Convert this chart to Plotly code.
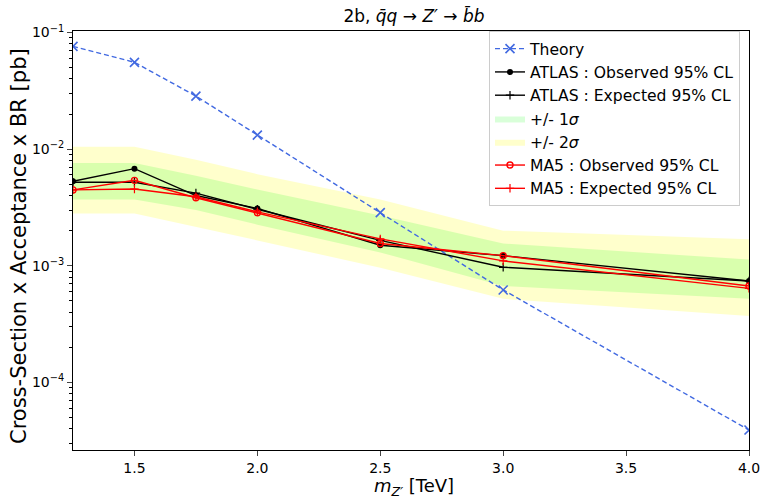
import plotly.graph_objects as go
import numpy as np

# ---- data ----
mass = [1.25, 1.5, 1.75, 2.0, 2.5, 3.0, 4.0]
theory = [0.0760, 0.0555, 0.0285, 0.0132, 0.00285, 0.00062, 0.000039]
atlas_obs = [0.0053, 0.0068, 0.0040, 0.0031, 0.00150, 0.00122, 0.00074]
atlas_exp = [0.0052, 0.0052, 0.0042, 0.00305, 0.00165, 0.00097, 0.00074]
sig1_up = [0.0076, 0.0076, 0.0059, 0.0045, 0.0027, 0.00155, 0.00113]
sig1_dn = [0.0037, 0.0037, 0.0030, 0.00225, 0.00130, 0.00067, 0.00052]
sig2_up = [0.0105, 0.0105, 0.0081, 0.0061, 0.0037, 0.0020, 0.00169]
sig2_dn = [0.0028, 0.0028, 0.00215, 0.00165, 0.00096, 0.00052, 0.00037]
ma5_obs = [0.00447, 0.0054, 0.00383, 0.00284, 0.00155, 0.00122, 0.00067]
ma5_exp = [0.00447, 0.00455, 0.0039, 0.0029, 0.00170, 0.00110, 0.00064]

xticks = [1.5, 2.0, 2.5, 3.0, 3.5, 4.0]
yticks = [1e-1, 1e-2, 1e-3, 1e-4]
yticklabels = ["10<sup>−1</sup>", "10<sup>−2</sup>", "10<sup>−3</sup>", "10<sup>−4</sup>"]

FONT = "DejaVu Sans"
L, R, T, B = 73, 13, 31, 52
W, H = 762, 502
PW, PH = W - L - R, H - T - B

fig = go.Figure()

# bands
fig.add_trace(go.Scatter(
    x=mass + mass[::-1], y=sig2_up + sig2_dn[::-1], fill="toself",
    fillcolor="rgba(255,255,0,0.2)", line=dict(width=0), mode="lines",
    name="+/- 2<i>σ</i>", legendrank=5, hoverinfo="skip"))
fig.add_trace(go.Scatter(
    x=mass + mass[::-1], y=sig1_up + sig1_dn[::-1], fill="toself",
    fillcolor="rgba(0,255,0,0.15)", line=dict(width=0), mode="lines",
    name="+/- 1<i>σ</i>", legendrank=4, hoverinfo="skip"))

# theory
fig.add_trace(go.Scatter(
    x=mass, y=theory, mode="lines+markers", name="Theory", legendrank=1,
    line=dict(color="royalblue", dash="5px,3px", width=1.4),
    marker=dict(symbol="x-thin", size=9, line=dict(color="royalblue", width=1.6))))

# ATLAS
fig.add_trace(go.Scatter(
    x=mass, y=atlas_obs, mode="lines+markers", name="ATLAS : Observed 95% CL",
    legendrank=2, line=dict(color="black", width=1.4),
    marker=dict(symbol="circle", size=6, color="black")))
fig.add_trace(go.Scatter(
    x=mass, y=atlas_exp, mode="lines+markers", name="ATLAS : Expected 95% CL",
    legendrank=3, line=dict(color="black", width=1.4),
    marker=dict(symbol="cross-thin", size=6, line=dict(color="black", width=1.2))))

# MA5
fig.add_trace(go.Scatter(
    x=mass, y=ma5_obs, mode="lines+markers", name="MA5 : Observed 95% CL",
    legendrank=6, line=dict(color="red", width=1.4),
    marker=dict(symbol="circle-open", size=6, color="red", line=dict(width=1.4))))
fig.add_trace(go.Scatter(
    x=mass, y=ma5_exp, mode="lines+markers", name="MA5 : Expected 95% CL",
    legendrank=7, line=dict(color="red", width=1.4),
    marker=dict(symbol="cross-thin", size=6, line=dict(color="red", width=1.2))))

minor_vals = [m * 10.0 ** e for e in range(-5, 0) for m in range(2, 10)]

fig.update_layout(
    width=W, height=H,
    margin=dict(l=L, r=R, t=T, b=B),
    paper_bgcolor="white", plot_bgcolor="white",
    font=dict(family=FONT, color="black", size=14),
    title=dict(text="2b, <i>q̄q</i> → <i>Z′</i> → <i>b̄b</i>", x=414 / W, xanchor="center",
               xref="container", y=1 - 16 / H, yref="container", yanchor="middle",
               font=dict(size=17)),
    showlegend=True,
    legend=dict(x=(489 - L) / PW, y=1.0, xanchor="left", yanchor="top",
                bgcolor="rgba(255,255,255,0.8)", bordercolor="#cccccc", borderwidth=1,
                font=dict(size=15.6), tracegroupgap=0, traceorder="normal"),
    xaxis=dict(range=[1.25, 4.0], tickvals=xticks, ticktext=[f"{v:.1f}" for v in xticks],
               ticks="outside", ticklen=5, tickwidth=1, showgrid=False, zeroline=False,
               showline=True, linecolor="black", linewidth=1, mirror=True,
               tickfont=dict(size=14), automargin=False),
    yaxis=dict(type="log", range=[-4.58, np.log10(0.103)],
               tickvals=yticks, ticktext=yticklabels,
               ticks="outside", ticklen=5, tickwidth=1, showgrid=False, zeroline=False,
               showline=True, linecolor="black", linewidth=1, mirror=True,
               tickfont=dict(size=14), automargin=False,
               minor=dict(tickvals=minor_vals, ticks="outside", ticklen=3, tickwidth=0.8,
                          tickcolor="black", showgrid=False)),
    annotations=[
        dict(text="Cross-Section x Acceptance x BR [pb]", textangle=-90,
             xref="paper", yref="paper", x=(19 - L) / PW, y=(H - B - 246) / PH,
             xanchor="center", yanchor="middle", showarrow=False, font=dict(size=21)),
        dict(text="<i>m</i><sub><i>Z′</i></sub> [TeV]",
             xref="paper", yref="paper", x=(414 - L) / PW, y=(H - B - 487) / PH,
             xanchor="center", yanchor="middle", showarrow=False, font=dict(size=18)),
    ],
)

fig.write_html("out.html", config={"displayModeBar": False},
               post_script="document.body.style.margin='0';")
